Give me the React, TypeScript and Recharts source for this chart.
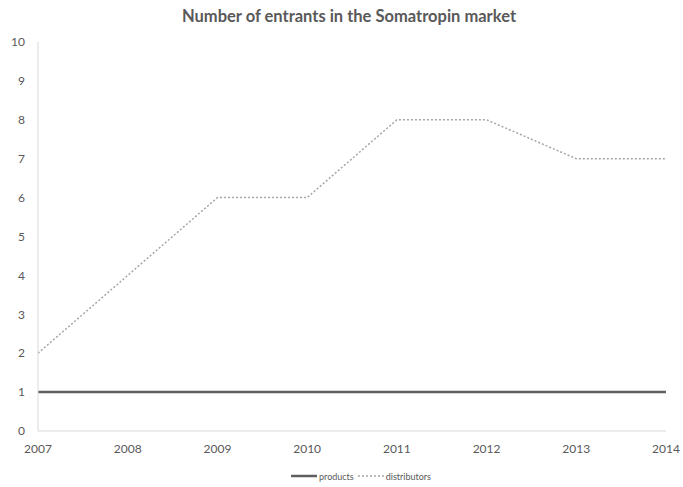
import { LineChart, Line, XAxis, YAxis, Legend } from 'recharts';

const years = ['2007', '2008', '2009', '2010', '2011', '2012', '2013', '2014'];
const products = [1, 1, 1, 1, 1, 1, 1, 1];
const distributors = [2, 4, 6, 6, 8, 8, 7, 7];
const yTicks = [0, 1, 2, 3, 4, 5, 6, 7, 8, 9, 10];
const seriesOrder = ['products', 'distributors'];

const data = years.map((year, i) => ({ year, products: products[i], distributors: distributors[i] }));

const FONT = 'Lato, "Open Sans", sans-serif';

function LegendContent({ payload }: any) {
  const items = [...(payload || [])].sort(
    (a: any, b: any) => seriesOrder.indexOf(a.dataKey) - seriesOrder.indexOf(b.dataKey)
  );
  return (
    <div style={{ height: 20, display: 'flex', justifyContent: 'center', alignItems: 'center', paddingLeft: 60 }}>
      {items.map((it: any) => (
        <div key={it.dataKey} style={{ display: 'flex', alignItems: 'center', marginRight: 4 }}>
          <svg width={26} height={6}>
            <line
              x1={0} y1={3} x2={26} y2={3}
              stroke={it.color}
              strokeWidth={it.payload.strokeWidth}
              strokeDasharray={it.payload.strokeDasharray}
            />
          </svg>
          <span style={{ fontSize: 9, color: '#595959', marginLeft: 2 }}>{it.value}</span>
        </div>
      ))}
    </div>
  );
}

export default function App() {
  return (
    <div style={{ position: 'fixed', left: 0, top: 0, width: 683, height: 487, background: '#fff', fontFamily: FONT }}>
      <div style={{ position: 'absolute', left: 0, top: 6, width: 698, textAlign: 'center', fontSize: 16.5, fontWeight: 'bold', color: '#595959' }}>
        Number of entrants in the Somatropin market
      </div>
      <LineChart width={683} height={487} data={data} margin={{ top: 42, right: 17, bottom: 1, left: 0 }}>
        <XAxis
          dataKey="year"
          axisLine={{ stroke: '#d9d9d9' }}
          tickLine={false}
          tickMargin={7}
          height={35}
          tick={{ fill: '#595959', fontSize: 12, fontFamily: FONT }}
        />
        <YAxis
          domain={[0, 10]}
          ticks={yTicks}
          width={38}
          axisLine={{ stroke: '#d9d9d9' }}
          tickLine={false}
          tickMargin={7}
          tick={{ fill: '#595959', fontSize: 12, fontFamily: FONT }}
        />
        <Legend verticalAlign="bottom" content={LegendContent} wrapperStyle={{ fontFamily: FONT }} />
        <Line dataKey="products" stroke="#5f5f5f" strokeWidth={2.5} dot={false} isAnimationActive={false} />
        <Line dataKey="distributors" stroke="#a6a6a6" strokeWidth={1.5} strokeDasharray="2 2" dot={false} isAnimationActive={false} />
      </LineChart>
    </div>
  );
}
